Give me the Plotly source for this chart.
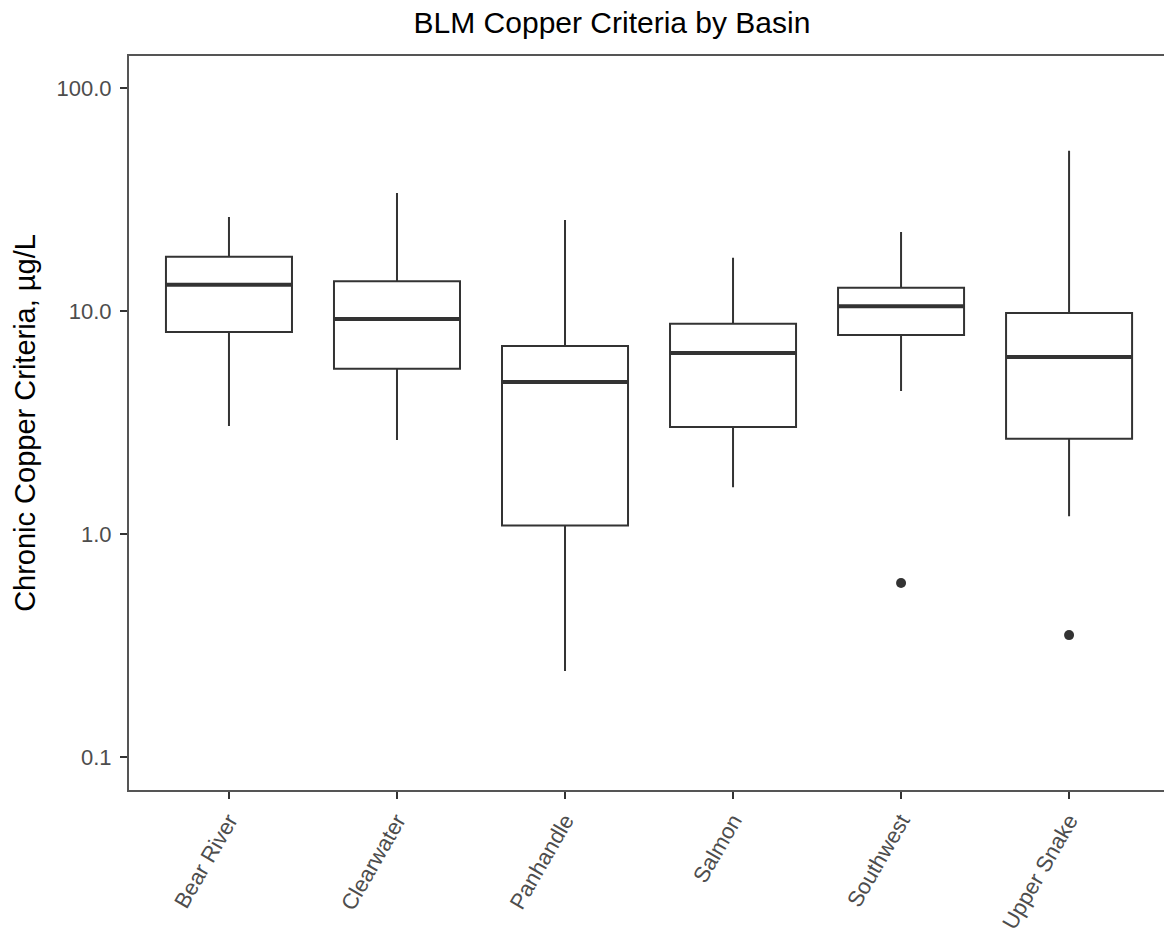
import plotly.graph_objects as go

basins = ["Bear River", "Clearwater", "Panhandle", "Salmon", "Southwest", "Upper Snake"]
lower_whisker = [3.05, 2.64, 0.243, 1.62, 4.38, 1.2]
q1 = [8.05, 5.5, 1.09, 3.02, 7.8, 2.67]
median = [13.1, 9.2, 4.8, 6.48, 10.5, 6.22]
q3 = [17.5, 13.6, 6.97, 8.75, 12.7, 9.8]
upper_whisker = [26.4, 33.8, 25.6, 17.3, 22.6, 52.2]
outlier_basins = ["Southwest", "Upper Snake"]
outlier_values = [0.603, 0.352]

ytick_vals = [0.1, 1, 10, 100]
ytick_text = ["0.1", "1.0", "10.0", "100.0"]

fig = go.Figure()
fig.add_trace(go.Box(
    x=basins, q1=q1, median=median, q3=q3,
    lowerfence=lower_whisker, upperfence=upper_whisker,
    boxpoints=False, width=0.75,
    fillcolor="white", line=dict(color="#333333", width=2),
    whiskerwidth=0, showlegend=False, hoverinfo="skip",
))
fig.add_trace(go.Scatter(
    x=outlier_basins, y=outlier_values, mode="markers",
    marker=dict(color="#333333", size=10), showlegend=False,
))

# emphasised (thicker) median lines
for i, m in enumerate(median):
    fig.add_shape(type="line", xref="x", yref="y",
                  x0=i - 0.375, x1=i + 0.375, y0=m, y1=m,
                  line=dict(color="#333333", width=4))

fig.update_layout(
    width=1164, height=934,
    margin=dict(l=129, r=0, t=56, b=144),
    paper_bgcolor="white", plot_bgcolor="white",
    title=dict(text="BLM Copper Criteria by Basin", x=612 / 1164,
               xanchor="center", y=1 - 22 / 934, yanchor="middle",
               font=dict(family="Liberation Sans, Arial", size=30, color="black")),
    font=dict(family="Liberation Sans, Arial"),
)
fig.update_xaxes(
    type="category", range=[-0.595, 5.565],
    showline=True, linecolor="#555555", linewidth=2, mirror=True,
    ticks="outside", ticklen=7, tickwidth=2, tickcolor="#333333",
    tickangle=-60, tickfont=dict(size=22, color="#4d4d4d"),
    showgrid=False, zeroline=False,
)
fig.update_yaxes(
    type="log", range=[-1.148, 2.143],
    tickvals=ytick_vals, ticktext=ytick_text,
    showline=True, linecolor="#555555", linewidth=2, mirror=False,
    ticks="outside", ticklen=7, tickwidth=2, tickcolor="#333333",
    ticklabelstandoff=4,
    tickfont=dict(size=22, color="#4d4d4d"),
    title=dict(text="Chronic Copper Criteria, µg/L", font=dict(size=29, color="black"), standoff=12),
    showgrid=False, zeroline=False,
)

fig.write_html("out.html")
